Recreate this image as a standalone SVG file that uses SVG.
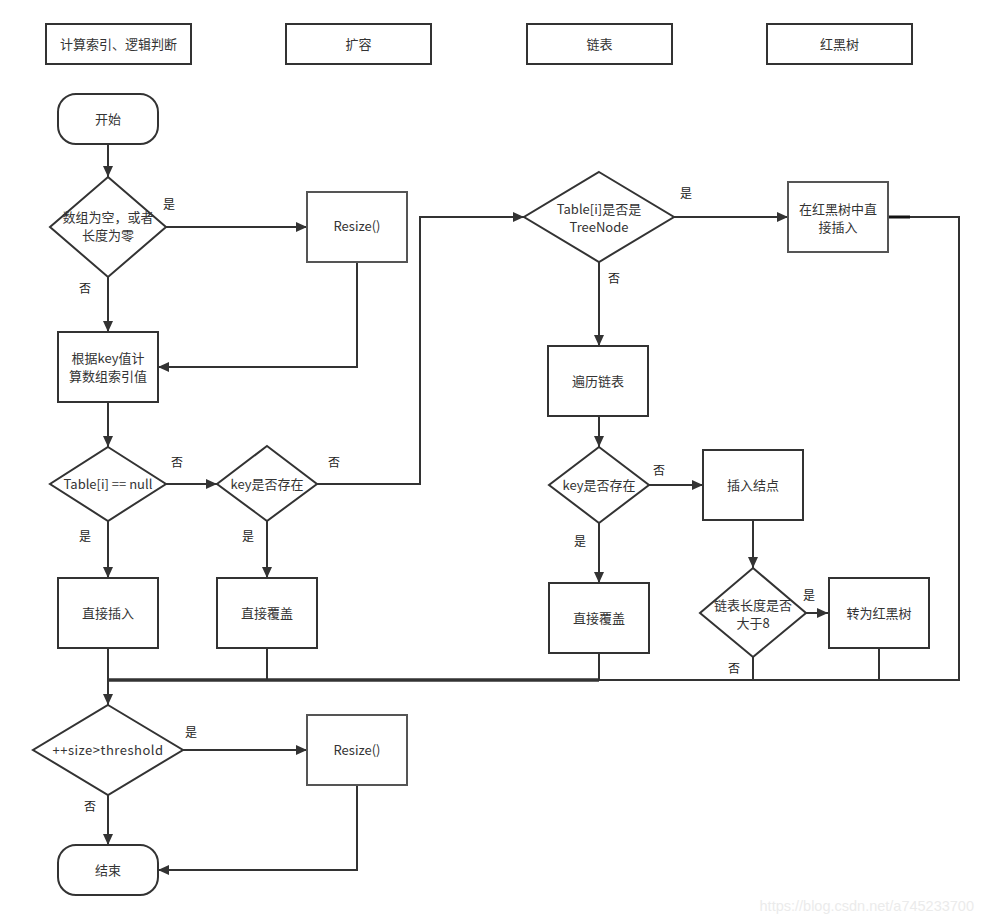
<svg xmlns="http://www.w3.org/2000/svg" width="984" height="920" viewBox="0 0 984 920">
<defs>
<marker id="arr" markerUnits="userSpaceOnUse" markerWidth="12" markerHeight="12" viewBox="0 0 12 12" refX="11" refY="6" orient="auto">
<path d="M0,1 L11,6 L0,11 Z" fill="#333"/>
</marker>
<style>
.n{fill:#fff;stroke:#333;stroke-width:2}
.g{fill:#fff;stroke:#555;stroke-width:2}
.t{font-family:"Noto Sans CJK SC","Liberation Sans",sans-serif;font-size:13px;fill:#333;text-anchor:middle}
.l{font-family:"Noto Sans CJK SC","Liberation Sans",sans-serif;font-size:12px;fill:#222;text-anchor:middle}
.c{fill:none;stroke:#333;stroke-width:2}
.a{fill:none;stroke:#333;stroke-width:2;marker-end:url(#arr)}
</style>
</defs>
<rect width="984" height="920" fill="#fff"/>

<g id="h1"><rect class="n" x="46" y="24" width="145" height="40"/><text class="t" x="118.5" y="49">计算索引、逻辑判断</text></g>
<g id="h2"><rect class="n" x="286" y="24" width="145" height="40"/><text class="t" x="358.5" y="49">扩容</text></g>
<g id="h3"><rect class="n" x="527" y="24" width="145" height="40"/><text class="t" x="599.5" y="49">链表</text></g>
<g id="h4"><rect class="n" x="767" y="24" width="145" height="40"/><text class="t" x="839.5" y="49">红黑树</text></g>

<g id="connectors">
<path class="a" d="M108,144 V177"/>
<path class="a" d="M166,227 H307"/>
<path class="a" d="M108,277 V332"/>
<path class="a" d="M357,262 V367 H158"/>
<path class="a" d="M108,402 V447"/>
<path class="a" d="M166,484 H217"/>
<path class="a" d="M317,484 H420 V217 H524"/>
<path class="a" d="M674,217 H788"/>
<path class="c" d="M888,217 H959 V680 H599"/>
<path d="M888,217 H910" stroke="#111" stroke-width="3"/>
<path class="a" d="M599,262 V346"/>
<path class="a" d="M599,416 V447"/>
<path class="a" d="M649,485 H703"/>
<path class="a" d="M599,523 V583"/>
<path class="a" d="M753,520 V568"/>
<path class="a" d="M806,613 H828"/>
<path class="c" d="M599,653 V680"/>
<path class="c" d="M753,657 V680"/>
<path class="c" d="M879,648 V680"/>
<path class="a" d="M108,521 V578"/>
<path class="a" d="M267,521 V578"/>
<path class="c" d="M267,648 V680"/>
<path d="M108,680 H599" stroke="#333" stroke-width="3.5" fill="none"/>
<path class="a" d="M108,648 V705"/>
<path class="a" d="M183,750 H307"/>
<path class="a" d="M108,795 V845"/>
<path class="a" d="M357,785 V870 H158"/>
</g>

<g id="start"><rect class="n" x="58" y="94" width="100" height="50" rx="18"/><text class="t" x="108" y="124">开始</text></g>
<g id="d1"><path class="n" d="M108,177 L166,227 L108,277 L50,227 Z"/><text class="t" x="108" y="222">数组为空，或者</text><text class="t" x="108" y="240">长度为零</text></g>
<g id="r1"><rect class="g" x="307" y="192" width="100" height="70"/><text class="t" x="357" y="231">Resize()</text></g>
<g id="calc"><rect class="n" x="58" y="332" width="100" height="70"/><text class="t" x="108" y="363">根据key值计</text><text class="t" x="108" y="381">算数组索引值</text></g>
<g id="d2"><path class="n" d="M108,447 L166,484 L108,521 L50,484 Z"/><text class="t" x="108" y="489">Table[i] == null</text></g>
<g id="d3"><path class="n" d="M267,446 L317,484 L267,521 L217,484 Z"/><text class="t" x="267" y="489">key是否存在</text></g>
<g id="ins1"><rect class="n" x="58" y="578" width="100" height="70"/><text class="t" x="108" y="618">直接插入</text></g>
<g id="cov1"><rect class="n" x="217" y="578" width="100" height="70"/><text class="t" x="267" y="618">直接覆盖</text></g>
<g id="d4"><path class="n" d="M599,172 L674,217 L599,262 L524,217 Z"/><text class="t" x="599" y="214">Table[i]是否是</text><text class="t" x="599" y="232">TreeNode</text></g>
<g id="rbins"><rect class="g" x="788" y="182" width="100" height="70"/><text class="t" x="838" y="214">在红黑树中直</text><text class="t" x="838" y="232">接插入</text></g>
<g id="trav"><rect class="n" x="548" y="346" width="100" height="70"/><text class="t" x="598" y="386">遍历链表</text></g>
<g id="d5"><path class="n" d="M599,447 L649,485 L599,523 L549,485 Z"/><text class="t" x="599" y="490">key是否存在</text></g>
<g id="insnode"><rect class="n" x="703" y="450" width="100" height="70"/><text class="t" x="753" y="490">插入结点</text></g>
<g id="cov2"><rect class="n" x="549" y="583" width="100" height="70"/><text class="t" x="599" y="623">直接覆盖</text></g>
<g id="d6"><path class="n" d="M753,568 L806,613 L753,657 L700,613 Z"/><text class="t" x="753" y="610">链表长度是否</text><text class="t" x="753" y="628">大于8</text></g>
<g id="torb"><rect class="n" x="829" y="578" width="100" height="70"/><text class="t" x="879" y="618">转为红黑树</text></g>
<g id="d7"><path class="n" d="M108,705 L183,750 L108,795 L33,750 Z"/><text class="t" x="108" y="755" letter-spacing="0.5">++size&gt;threshold</text></g>
<g id="r2"><rect class="g" x="307" y="715" width="100" height="70"/><text class="t" x="357" y="755">Resize()</text></g>
<g id="end"><rect class="n" x="58" y="845" width="100" height="50" rx="18"/><text class="t" x="108" y="875">结束</text></g>

<g id="labels">
<text class="l" x="169" y="209">是</text>
<text class="l" x="85" y="293">否</text>
<text class="l" x="177" y="467">否</text>
<text class="l" x="334" y="467">否</text>
<text class="l" x="85" y="541">是</text>
<text class="l" x="248" y="541">是</text>
<text class="l" x="686" y="198">是</text>
<text class="l" x="614" y="283">否</text>
<text class="l" x="659" y="475">否</text>
<text class="l" x="580" y="546">是</text>
<text class="l" x="809" y="600">是</text>
<text class="l" x="734" y="673">否</text>
<text class="l" x="191" y="737">是</text>
<text class="l" x="90" y="811">否</text>
</g>
<text x="974" y="911" text-anchor="end" font-family="Liberation Sans, sans-serif" font-size="14.5" fill="#ebebeb">https://blog.csdn.net/a745233700</text>
</svg>
